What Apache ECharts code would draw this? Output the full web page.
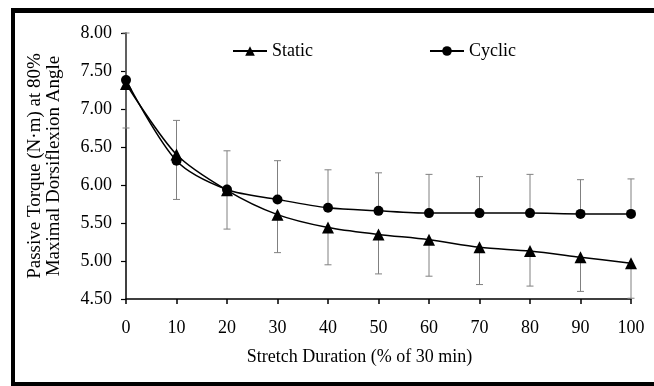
<!DOCTYPE html>
<html>
<head>
<meta charset="utf-8">
<script src="https://cdn.jsdelivr.net/npm/echarts@6/dist/echarts.min.js"></script>
<style>html,body{margin:0;padding:0;background:#fff;}#c{width:654px;height:386px;}</style>
</head>
<body>
<div id="c"></div>
<script>
var durations = [0, 10, 20, 30, 40, 50, 60, 70, 80, 90, 100];
var staticMean = [7.33, 6.40, 5.93, 5.61, 5.44, 5.35, 5.28, 5.18, 5.13, 5.05, 4.97];
var cyclicMean = [7.38, 6.32, 5.94, 5.81, 5.70, 5.66, 5.63, 5.63, 5.63, 5.62, 5.62];
var staticLower = [6.75, 5.81, 5.42, 5.11, 4.95, 4.83, 4.80, 4.69, 4.67, 4.60, 4.51];
var cyclicUpper = [8.00, 6.85, 6.45, 6.32, 6.20, 6.16, 6.14, 6.11, 6.14, 6.07, 6.08];
var seriesNames = ['Static', 'Cyclic'];
var xTitle = 'Stretch Duration (% of 30 min)';
var yTitle = 'Passive Torque (N\u00b7m) at 80%\nMaximal Dorsiflexion Angle';

var FONT = 'Liberation Serif';
var chart = echarts.init(document.getElementById('c'));

function pairs(ys) { return durations.map(function (x, i) { return [x, ys[i]]; }); }
function errData(from, to) { return durations.map(function (x, i) { return [x, from[i], to[i]]; }); }

function errRender(params, api) {
  var x = api.value(0);
  var p0 = api.coord([x, api.value(1)]);
  var p1 = api.coord([x, api.value(2)]);
  var hw = 3.5;
  return {
    type: 'group',
    children: [
      { type: 'line', shape: { x1: p0[0], y1: p0[1], x2: p1[0], y2: p1[1] }, style: { stroke: '#808080', lineWidth: 1 } },
      { type: 'line', shape: { x1: p1[0] - hw, y1: p1[1], x2: p1[0] + hw, y2: p1[1] }, style: { stroke: '#808080', lineWidth: 1 } }
    ]
  };
}

chart.setOption({
  backgroundColor: '#fff',
  animation: false,
  grid: { left: 126, right: 23, top: 33, bottom: 87 },
  legend: {
    data: seriesNames,
    left: 227, top: 37,
    itemWidth: 34, itemHeight: 12, itemGap: 116,
    textStyle: { fontFamily: FONT, fontSize: 18, color: '#000' }
  },
  xAxis: {
    type: 'value', min: 0, max: 100, interval: 10,
    name: xTitle, nameLocation: 'middle', nameGap: 49,
    nameTextStyle: { fontFamily: FONT, fontSize: 18, color: '#000', padding: [0, 38, 0, 0] },
    axisLine: { lineStyle: { color: '#000', width: 1.5 } },
    axisTick: { show: true, length: 5, lineStyle: { color: '#000', width: 1.5 } },
    axisLabel: { fontFamily: FONT, fontSize: 18, color: '#000', margin: 20 },
    splitLine: { show: false }
  },
  yAxis: {
    type: 'value', min: 4.5, max: 8, interval: 0.5,
    name: yTitle, nameLocation: 'middle', nameGap: 62, nameRotate: 90,
    nameTextStyle: { fontFamily: FONT, fontSize: 19, color: '#000', lineHeight: 19 },
    axisLine: { show: true, lineStyle: { color: '#000', width: 1.5 } },
    axisTick: { show: true, length: 5, lineStyle: { color: '#000', width: 1.2 } },
    axisLabel: { fontFamily: FONT, fontSize: 18, color: '#000', margin: 14, formatter: function (v) { return v.toFixed(2); } },
    splitLine: { show: false }
  },
  series: [
    { type: 'custom', renderItem: errRender, data: errData(staticMean, staticLower), z: 1, silent: true, encode: { x: 0, y: [1, 2] } },
    { type: 'custom', renderItem: errRender, data: errData(cyclicMean, cyclicUpper), z: 1, silent: true, encode: { x: 0, y: [1, 2] } },
    {
      name: seriesNames[0], type: 'line', data: pairs(staticMean), smooth: 0.3,
      symbol: 'triangle', symbolSize: 12, z: 3,
      lineStyle: { color: '#000', width: 1.5 }, itemStyle: { color: '#000' }
    },
    {
      name: seriesNames[1], type: 'line', data: pairs(cyclicMean), smooth: 0.3,
      symbol: 'circle', symbolSize: 10, z: 3,
      lineStyle: { color: '#000', width: 1.5 }, itemStyle: { color: '#000' }
    }
  ],
  graphic: [
    { type: 'rect', shape: { x: 11, y: 8, width: 643, height: 5 }, style: { fill: '#000' } },
    { type: 'rect', shape: { x: 11, y: 8, width: 4, height: 378 }, style: { fill: '#000' } },
    { type: 'rect', shape: { x: 11, y: 382, width: 643, height: 4 }, style: { fill: '#000' } }
  ]
});
</script>
</body>
</html>
